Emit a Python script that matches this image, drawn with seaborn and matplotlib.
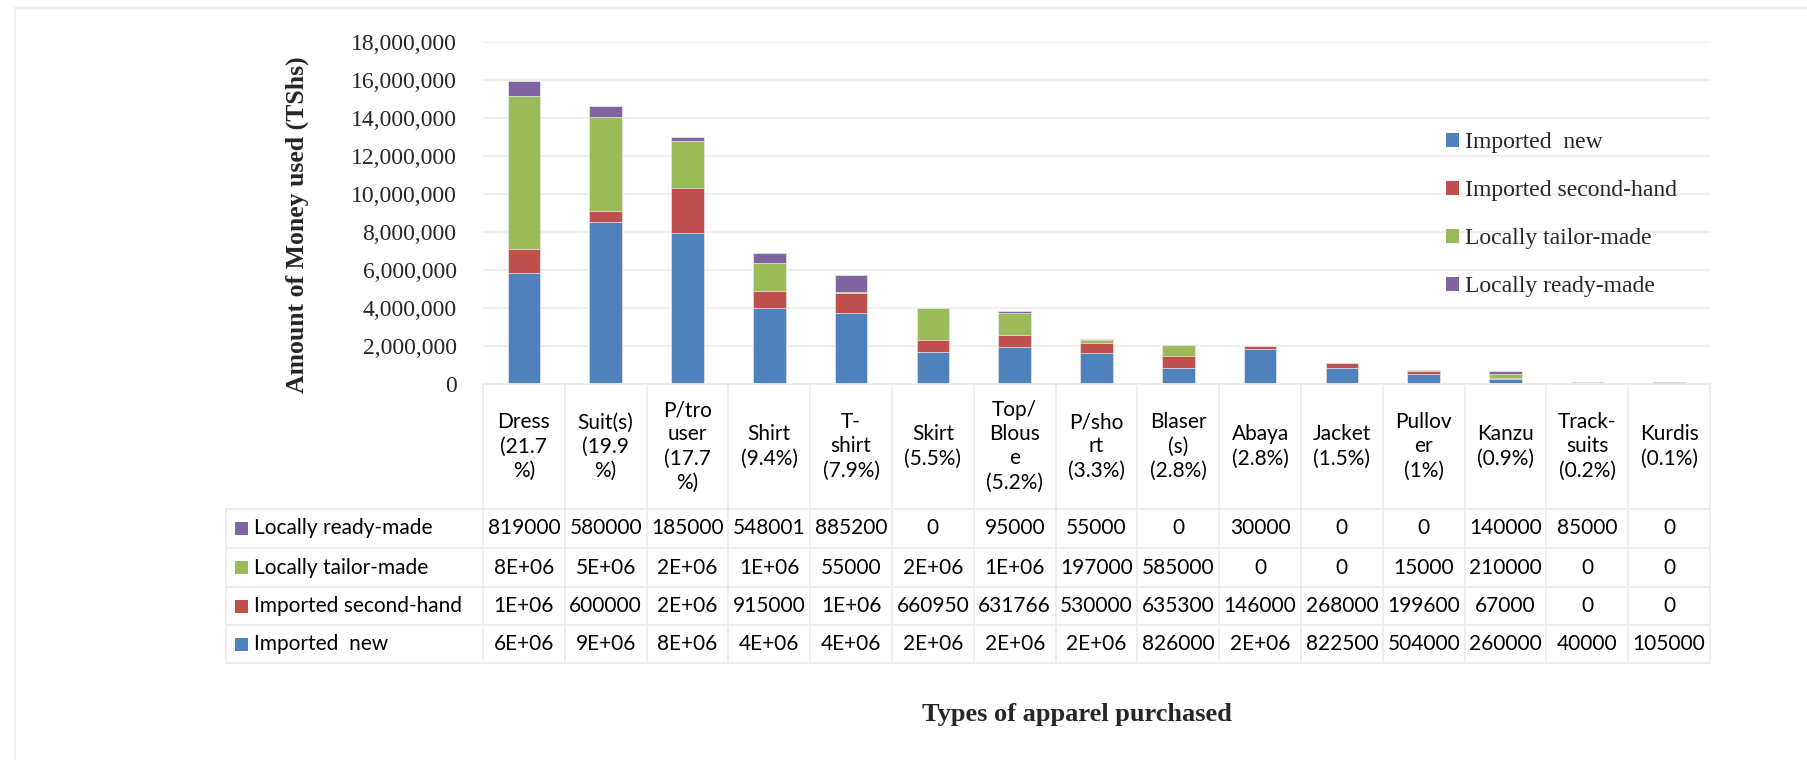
import matplotlib
matplotlib.use("Agg")
import matplotlib.pyplot as plt
import seaborn as sns
import numpy as np
import pandas as pd
from matplotlib.patches import Patch, Rectangle
from matplotlib.lines import Line2D
from matplotlib.transforms import blended_transform_factory
from matplotlib.ticker import FuncFormatter, MultipleLocator

# ---- data -------------------------------------------------------------
categories = ["Dress", "Suit(s)", "P/trouser", "Shirt", "T-shirt", "Skirt",
              "Top/Blouse", "P/short", "Blaser(s)", "Abaya", "Jacket",
              "Pullover", "Kanzu", "Track-suits", "Kurdis"]
header_labels = ["Dress\n(21.7\n%)", "Suit(s)\n(19.9\n%)", "P/tro\nuser\n(17.7\n%)",
                 "Shirt\n(9.4%)", "T-\nshirt\n(7.9%)", "Skirt\n(5.5%)",
                 "Top/\nBlous\ne\n(5.2%)", "P/sho\nrt\n(3.3%)", "Blaser\n(s)\n(2.8%)",
                 "Abaya\n(2.8%)", "Jacket\n(1.5%)", "Pullov\ner\n(1%)",
                 "Kanzu\n(0.9%)", "Track-\nsuits\n(0.2%)", "Kurdis\n(0.1%)"]
series_names = ["Imported  new", "Imported second-hand",
                "Locally tailor-made", "Locally ready-made"]

imported_new = [5840000, 8520000, 7960000, 4000000, 3720000, 1670000, 1930000,
                1610000, 826000, 1830000, 822500, 504000, 260000, 40000, 105000]
imported_second_hand = [1280000, 600000, 2370000, 915000, 1090000, 660950, 631766,
                        530000, 635300, 146000, 268000, 199600, 67000, 0, 0]
locally_tailor_made = [8020000, 4950000, 2460000, 1440000, 55000, 1690000, 1160000,
                       197000, 585000, 0, 0, 15000, 210000, 0, 0]
locally_ready_made = [819000, 580000, 185000, 548001, 885200, 0, 95000,
                      55000, 0, 30000, 0, 0, 140000, 85000, 0]

series_values = [imported_new, imported_second_hand,
                 locally_tailor_made, locally_ready_made]
colors = ["#4F81BD", "#C0504D", "#9BBB59", "#8064A2"]

# ---- figure setup -----------------------------------------------------
sns.set_style("white")
plt.rcParams["font.family"] = ["Liberation Serif", "DejaVu Serif"]

W, H = 1807, 760
fig = plt.figure(figsize=(W / 100, H / 100), dpi=100, facecolor="white")


def fx(px):
    return px / W


def fy(py):
    return 1 - py / H


PL, PR, PT, PB = 483, 1710, 42, 384
ax = fig.add_axes([fx(PL), fy(PB), fx(PR) - fx(PL), fy(PT) - fy(PB)])

# stacked bars: draw cumulative totals from the top segment down
stack = np.cumsum(np.array(series_values, dtype=float), axis=0)
for k in range(len(series_values) - 1, -1, -1):
    layer = pd.DataFrame({"category": categories, "amount": stack[k]})
    sns.barplot(data=layer, x="category", y="amount", order=categories,
                color=colors[k], saturation=1, width=0.4, errorbar=None,
                edgecolor="#EDEDED", linewidth=0.5, ax=ax)

ax.set_xlim(-0.5, len(categories) - 0.5)
ax.set_ylim(0, 18_000_000)
ax.yaxis.set_major_locator(MultipleLocator(2_000_000))
ax.yaxis.set_major_formatter(FuncFormatter(lambda v, p: f"{int(v):,}"))
ax.set_xticks([])
ax.set_xlabel("")
ax.set_ylabel("")
ax.tick_params(axis="y", length=0, pad=19, labelsize=17)
ax.yaxis.grid(True, color="#F0F0F0", lw=1.5)
ax.set_axisbelow(True)
for s in ax.spines.values():
    s.set_visible(False)

# legend
handles = [Patch(facecolor=c, edgecolor="none") for c in colors]
ax.legend(handles, series_names, loc="upper left",
          bbox_to_anchor=(fx(1446), fy(132)), bbox_transform=fig.transFigure,
          frameon=False, fontsize=17, handlelength=0.55, handleheight=0.55,
          handletextpad=0.25, labelspacing=1.15, borderpad=0, borderaxespad=0)

# ---- data table below the bars ----------------------------------------
blend = blended_transform_factory(ax.transData, fig.transFigure)
grid_col = "#EDEDED"
table_font = dict(family=["Lato", "DejaVu Sans"], size=15, color="black")


def cell_text(v):
    if v >= 1_000_000:
        return f"{v:.0E}"
    return f"{int(round(v))}"


row_edges = [509, 548, 587, 625, 663]
row_order = [3, 2, 1, 0]
n = len(categories)

# header cells
for i, lab in enumerate(header_labels):
    fig.text(i, fy((PB + row_edges[0]) / 2), lab, transform=blend,
             ha="center", va="center", multialignment="center",
             linespacing=1.25, **table_font)

# vertical separators
for i in range(n + 1):
    fig.add_artist(Line2D([i - 0.5, i - 0.5], [fy(PB), fy(row_edges[-1])],
                          transform=blend, color=grid_col, lw=1.3))
fig.add_artist(Line2D([fx(226), fx(226)], [fy(row_edges[0]), fy(row_edges[-1])],
                      transform=fig.transFigure, color=grid_col, lw=1.3))
fig.add_artist(Line2D([fx(PL), fx(PR)], [fy(PB), fy(PB)],
                      transform=fig.transFigure, color=grid_col, lw=1.3))
for y in row_edges:
    fig.add_artist(Line2D([fx(226), fx(PR)], [fy(y), fy(y)],
                          transform=fig.transFigure, color=grid_col, lw=1.3))

# value rows
for r, k in enumerate(row_order):
    yc = (row_edges[r] + row_edges[r + 1]) / 2
    fig.add_artist(Rectangle((fx(235), fy(yc + 6.5)), 13 / W, 13 / H,
                             transform=fig.transFigure, facecolor=colors[k],
                             edgecolor="none"))
    fig.text(fx(254), fy(yc), series_names[k], ha="left", va="center",
             **table_font)
    for i, v in enumerate(series_values[k]):
        fig.text(i, fy(yc), cell_text(v), transform=blend,
                 ha="center", va="center", **table_font)

# axis titles
fig.text(fx(297), fy(225), "Amount of Money used (TShs)", rotation=90,
         ha="center", va="center", fontsize=18.5, fontweight="bold")
fig.text(fx(1077), fy(714), "Types of apparel purchased",
         ha="center", va="center", fontsize=19, fontweight="bold")

# chart area frame
fig.add_artist(Line2D([fx(15), 1.0], [fy(8), fy(8)],
                      transform=fig.transFigure, color="#F0F0F0", lw=1.5))
fig.add_artist(Line2D([fx(15), fx(15)], [0.0, fy(8)],
                      transform=fig.transFigure, color="#F0F0F0", lw=1.5))

fig.savefig("out.png", dpi=100, facecolor="white")
